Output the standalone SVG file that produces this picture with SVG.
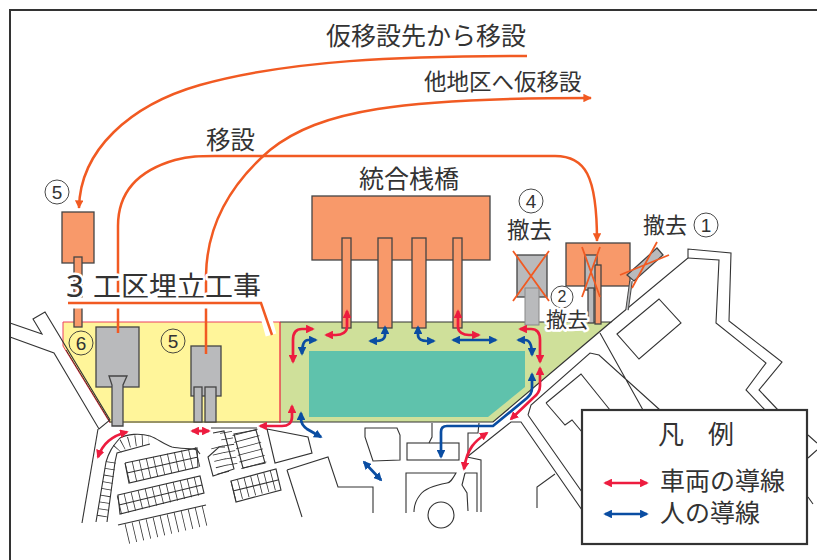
<svg xmlns="http://www.w3.org/2000/svg" width="817" height="560" viewBox="0 0 817 560">
<defs>
<marker id="ao" viewBox="0 0 10 10" refX="9" refY="5" markerWidth="3.4" markerHeight="3.4" orient="auto-start-reverse"><path d="M0 0L10 5L0 10Z" fill="#f15a22"/></marker>
<marker id="ar" viewBox="0 0 10 10" refX="8" refY="5" markerWidth="3.2" markerHeight="3.2" orient="auto-start-reverse"><path d="M0 0L10 5L0 10Z" fill="#ed1c3f"/></marker>
<marker id="ab" viewBox="0 0 10 10" refX="8" refY="5" markerWidth="3.2" markerHeight="3.2" orient="auto-start-reverse"><path d="M0 0L10 5L0 10Z" fill="#0a4da2"/></marker>
</defs>
<style>
text{font-family:"Noto Sans CJK JP","Noto Sans",sans-serif;fill:#333}
.map{fill:none;stroke:#333;stroke-width:1.1}
.st{fill:none;stroke:#333;stroke-width:20;stroke-dasharray:.8 6.4}
.g{fill:#b9babc;stroke:#444;stroke-width:1.3}
.o{fill:#f8996a;stroke:#444;stroke-width:1.3}
.of{fill:none;stroke:#f15a22;stroke-width:2.5}
.x{fill:none;stroke:#f15a22;stroke-width:1.8}
.r{fill:none;stroke:#ed1c3f;stroke-width:2.7;marker-start:url(#ar);marker-end:url(#ar)}
.b{fill:none;stroke:#0a4da2;stroke-width:2.7;marker-start:url(#ab);marker-end:url(#ab)}
.c{fill:none;stroke:#333;stroke-width:.9}
.n{font-size:19px;text-anchor:middle;font-family:"Liberation Sans",sans-serif}
.h{stroke:#fff;stroke-width:5px;paint-order:stroke;stroke-linejoin:round}
</style>
<rect width="817" height="560" fill="#fff"/>
<path d="M10 560V10H817" fill="none" stroke="#333" stroke-width="2"/>

<g id="site">
<path d="M63 322H280V423H110L63 346Z" fill="#fff59a"/>
<path d="M110 423L63 346V322H280" fill="none" stroke="#ed3f5f" stroke-width="1"/>
<path d="M110 422L66 350" fill="none" stroke="#5a2020" stroke-width="1"/>
<path d="M280 322H611L493 422H280Z" fill="#cfe09a"/>
<path d="M280 322H611L493 422H110" fill="none" stroke="#333" stroke-width="1.2"/>
<path d="M280 322V423" stroke="#ed1c3f" stroke-width="1.2"/>
<path d="M309 351H525V387L488 417H309Z" fill="#5fc2ac"/>
</g>

<g id="map">
<path class="map" d="M10 323L42 334L33 319L45 312L110 420L99 429L54 353L10 337"/>
<path class="map" d="M98 429L82 523"/>
<path class="map" d="M96 522L106 462C109 452 112 447 120 438C127 434 140 433 150 436C158 439 165 445 172 447C180 449 193 448 197 450L200 454"/>
<path class="map" d="M107 522L115 462L117 453L150 444"/>
<path class="st" style="stroke-width:10;stroke-dasharray:.8 6" d="M111 462L101 522"/>
<path class="st" style="stroke-width:11;stroke-dasharray:.8 6" d="M117 449C123 442 135 440 149 440"/>
<path class="map" d="M125 463L197 448L198 467L129 483L125 463M127 473L198 457"/>
<path class="st" d="M127 473L198 457"/>
<path class="map" d="M118 495L200 476L204 493L120 514ZM119 505L202 485"/>
<path class="st" style="stroke-width:19" d="M119 505L202 485"/>
<path class="map" d="M118 525L206 505"/>
<path class="st" d="M127 534L208 515"/>
<path class="map" d="M211 428H257M213 433L224 431L234 469L213 476L208 457L219 447L225 447"/>
<path class="st" style="stroke-width:12;stroke-dasharray:.8 5.7" d="M217 447L224 476M226 432L232 468"/>
<path class="map" d="M234 434L256 430L265 463L243 468Z"/>
<path class="st" style="stroke-width:26;stroke-dasharray:.8 6" d="M245 432L254 466"/>
<path class="map" d="M231 481L276 469L281 490L236 502ZM233 491L278 480"/>
<path class="st" style="stroke-width:20;stroke-dasharray:.8 6" d="M233 491L279 479"/>
<path class="map" d="M267 429L308 437L312 453L275 463ZM287 470L328 457L338 487H373V513M287 470L302 517"/>
<path class="map" d="M365 428H397L400 435V460L373 461L365 437Z"/>
<rect class="map" x="407" y="443" width="52" height="17"/>
<path class="map" d="M432 423V437L429 443M479 423L478 433H468V455M467 457L511 422H521L582 510M467 457L481 460V512"/>
<path class="map" d="M406 513V473H456C452 480 450 483 447 483C436 485 425 488 420 495C416 500 414 505 414 512"/>
<path class="map" d="M465 473H477V512M465 473L462 485L467 493L468 511"/>
<circle class="map" cx="441" cy="515" r="13"/>
<path class="map" d="M611 322L688 258V249L731 253L729 321L782 362L759 390L778 410"/>
<path class="map" d="M688 258L719 260L716 323L766 363L746 390L765 410"/>
<path class="map" d="M617 334L659 299L681 323L639 359Z"/>
<path class="map" d="M528 415L531 405L590 353L599 355L660 410M600 333L643 410M528 415L582 492"/>
<path class="map" d="M546 403L581 374L610 410M546 403L565 425L572 420L582 432M537 508V487L555 474"/>
<path class="map" d="M808 435L817 443M808 458L817 450M808 497L813 504"/>
</g>

<g id="merged-pier">
<rect class="o" x="312" y="196" width="178" height="64"/>
<rect class="o" x="342" y="238" width="9" height="90"/>
<rect class="o" x="378" y="238" width="14" height="90"/>
<rect class="o" x="412" y="238" width="14" height="90"/>
<rect class="o" x="453" y="238" width="9" height="90"/>
<text x="359" y="188" font-size="25">統合桟橋</text>
</g>

<g id="item4">
<rect class="g" x="517" y="255" width="30" height="42"/>
<rect x="525" y="288" width="14" height="37" fill="#b9babc" stroke="#888" stroke-width="1"/>
<path class="x" d="M513 251L549 301M549 251L513 301"/>
<circle class="c" cx="531" cy="201" r="12"/><text class="n" x="531" y="208">4</text>
<text x="507" y="238" font-size="22.5">撤去</text>
</g>

<g id="item2">
<rect class="o" x="566" y="243" width="64" height="43"/>
<rect class="g" x="585" y="255" width="12" height="35"/>
<rect class="g" x="588" y="288" width="6" height="35"/>
<rect class="o" x="595" y="265" width="6" height="59"/>
<path class="x" d="M582 247L600 297M600 247L582 297"/>
<circle class="c" cx="562" cy="297" r="11"/><text class="n" x="562" y="302" style="font-size:16px">2</text>
<text class="h" x="546" y="327" font-size="21">撤去</text>
</g>

<g id="item1">
<path d="M631 281L627 310" stroke="#444" stroke-width="3.5" fill="none"/>
<path d="M631 281L627 310" stroke="#b9babc" stroke-width="1.6" fill="none"/>
<path class="g" d="M627 275L657 248L663 255L634 281Z"/>
<path class="x" d="M620 275L669 255M657 242L632 288"/>
<text x="643" y="233" font-size="22">撤去</text>
<circle class="c" cx="706" cy="225" r="12"/><text class="n" x="706" y="232">1</text>
</g>

<g id="item5-upper">
<rect class="o" x="62" y="212" width="32" height="51"/>
<rect class="o" x="74" y="257" width="8" height="70"/>
<circle class="c" cx="57" cy="192" r="12"/><text class="n" x="57" y="199">5</text>
</g>

<g id="item6">
<rect class="g" x="96" y="327" width="43" height="60"/>
<path class="g" d="M109 376H127L123 385V426H112V385Z"/>
<circle class="c" cx="81" cy="343" r="12"/><text class="n" x="81" y="350">6</text>
</g>

<g id="item5-lower">
<rect class="g" x="191" y="346" width="30" height="50"/>
<rect class="g" x="194" y="387" width="8" height="35"/>
<rect class="g" x="205" y="387" width="11" height="35"/>
<circle class="c" cx="173" cy="341" r="12"/><text class="n" x="173" y="348">5</text>
</g>

<g id="connectors">
<path class="of" d="M527 56C400 56 290 60 200 85C130 105 80 150 79 208" marker-end="url(#ao)"/>
<path class="of" d="M118 333V226C118 190 140 170 175 160C190 156 200 156 215 156H555C585 156 597 175 597 241" marker-end="url(#ao)"/>
<path class="of" d="M206 354V275C207 220 235 180 270 150C320 110 400 98 591 98" marker-end="url(#ao)"/>
<path class="r" d="M98 457C103 443 112 436 127 432"/>
<path class="r" d="M192 431H209"/>
<path class="r" d="M292 406V417C292 423 288 426 282 426H260"/>
<path class="r" d="M313 329H302C296 329 293 333 293 340V362"/>
<path class="r" d="M347 311V327C347 332 342 335 336 335H326"/>
<path class="r" d="M458 311V327C458 332 463 335 469 335H479"/>
<path class="r" d="M520 329H531C537 329 540 333 540 340V362"/>
<path class="r" d="M540 368V386C540 392 537 395 533 398L511 419"/>
<path class="r" d="M487 433C475 441 467 448 464 469"/>
<path class="b" d="M316 340H308C304 340 302 345 302 354"/>
<path class="b" d="M385 327V335C385 339 381 341 376 341H370"/>
<path class="b" d="M418 327V335C418 339 422 341 427 341H434"/>
<path class="b" d="M453 340H496"/>
<path class="b" d="M518 340H525C530 340 532 346 532 355"/>
<path class="b" d="M532 374V388C532 393 530 395 527 398L493 426H447C443 426 441 428 441 432V457"/>
<path class="b" d="M301 413V419C301 423 303 426 307 429L321 437"/>
<path class="b" d="M364 462L381 480"/>
</g>

<g id="title">
<text x="326" y="45" font-size="25">仮移設先から移設</text>
<text x="424" y="90" font-size="22.5">他地区へ仮移設</text>
<text x="206" y="149" font-size="24.5">移設</text>
<text class="h" x="66" y="297" font-size="31" textLength="18" lengthAdjust="spacingAndGlyphs" style="font-family:'Noto Sans',sans-serif">3</text>
<text class="h" x="93" y="297" font-size="28">工区埋立工事</text>
<path d="M66 303H262M262 302L271 335" fill="none" stroke="#fff" stroke-width="11"/>
<path class="of" d="M68 303H261L272 335"/>
</g>

<g id="legend">
<rect x="582" y="410" width="225" height="134" fill="#fff" stroke="#333" stroke-width="2.2"/>
<text x="658" y="444" font-size="26">凡</text>
<text x="708" y="444" font-size="26">例</text>
<path class="r" d="M605 483H647"/>
<path class="b" d="M605 514H647"/>
<text x="660" y="490" font-size="25">車両の導線</text>
<text x="660" y="522" font-size="25">人の導線</text>
</g>
</svg>
